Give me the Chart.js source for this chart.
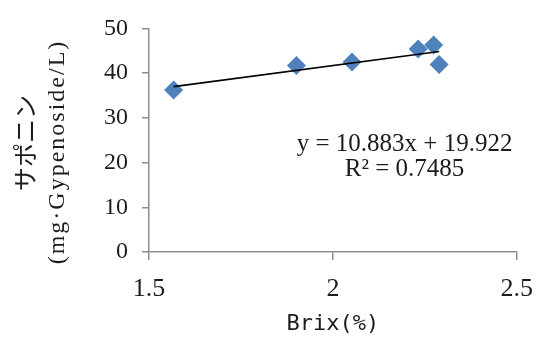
<!DOCTYPE html>
<html>
<head>
<meta charset="utf-8">
<script src="https://cdn.jsdelivr.net/npm/chart.js@4"></script>
<style>
    html, body { margin: 0; padding: 0; background: #ffffff; }
    canvas { display: block; }
</style>
</head>
<body>
<canvas id="BrixChart" width="549" height="338"></canvas>
<script>
// ---------------- Data ----------------
const brix = [1.567, 1.901, 2.052, 2.232, 2.274, 2.289];
const saponin = [36.2, 41.7, 42.5, 45.4, 46.3, 41.9];

// trend line end points as drawn (y = 10.883x + 19.922)
const trendX = [1.567, 2.289];
const trendY = [36.98, 44.83];

const xTicks = [1.5, 2, 2.5];
const xTickLabels = ["1.5", "2", "2.5"];
const yTicks = [0, 10, 20, 30, 40, 50];
const yTickLabels = ["0", "10", "20", "30", "40", "50"];

const equationText = ["y = 10.883x + 19.922", "R\u00b2 = 0.7485"];
const equationPos = { x: 2.195, y: 24.1 };

const xTitle = "Brix(%)";
const yTitle = ["サポニン", "(mg·Gypenoside/L)"];

const axisColor = "#8e8e8e";
const textColor = "#1c1c1c";
const markerColor = "#4f81bd";


// ---------------- Helpers ----------------
function toPoints(xs, ys) {
    return xs.map((x, i) => ({ x: x, y: ys[i] }));
}

function fixedTicks(values) {
    return function(scale) {
        scale.ticks = values.map(v => ({ value: v }));
    };
}


// ---------------- Text plugin (y title, equation) ----------------
const textPlugin = {
    id: "textPlugin",
    afterDraw(chart) {
        const ctx = chart.ctx;
        const xs = chart.scales.x;
        const ys = chart.scales.y;

        ctx.save();
        ctx.fillStyle = textColor;
        ctx.textAlign = "center";
        ctx.textBaseline = "middle";

        // y axis title, two lines, rotated
        ctx.save();
        ctx.translate(25, 143);
        ctx.rotate(-Math.PI / 2);
        ctx.font = "24px 'Noto Sans CJK JP'";
        ctx.fillText(yTitle[0], 0, 0);
        ctx.restore();

        ctx.save();
        ctx.translate(58, 152);
        ctx.rotate(-Math.PI / 2);
        ctx.font = "24px 'Liberation Serif'";
        ctx.letterSpacing = "2px";
        ctx.fillText(yTitle[1], 0, 0);
        ctx.restore();

        // trend line equation
        const ex = xs.getPixelForValue(equationPos.x);
        const ey = ys.getPixelForValue(equationPos.y);
        ctx.font = "25px 'Liberation Serif'";
        ctx.fillText(equationText[0], ex, ey);
        ctx.fillText(equationText[1], ex, ey + 25);

        ctx.restore();
    }
};


// ---------------- Chart ----------------
const ctx = document.getElementById("BrixChart").getContext("2d");

new Chart(ctx, {

    type: "scatter",

    data: {
        datasets: [
            {
                label: "trend",
                data: toPoints(trendX, trendY),
                showLine: true,
                borderColor: "#000000",
                borderWidth: 1.6,
                pointRadius: 0,
                order: 0
            },
            {
                label: "saponin",
                data: toPoints(brix, saponin),
                pointStyle: "rectRot",
                pointRadius: 9.5,
                pointHoverRadius: 9.5,
                backgroundColor: markerColor,
                borderColor: markerColor,
                borderWidth: 0,
                showLine: false,
                order: 1
            }
        ]
    },

    options: {

        responsive: false,
        animation: false,
        devicePixelRatio: 1,

        layout: {
            padding: { top: 24, right: 29, left: 0, bottom: 0 }
        },

        scales: {

            x: {
                type: "linear",
                position: "bottom",
                min: 1.5,
                max: 2.5,
                afterBuildTicks: fixedTicks(xTicks),
                afterFit: scale => { scale.height = 86; },
                border: { color: axisColor, width: 1.5 },
                grid: {
                    drawOnChartArea: false,
                    drawTicks: true,
                    tickLength: 8,
                    color: axisColor,
                    lineWidth: 1.5
                },
                ticks: {
                    padding: 16,
                    color: textColor,
                    font: { family: "'Liberation Serif'", size: 26, lineHeight: 1 },
                    callback: (v, i) => xTickLabels[i]
                },
                title: {
                    display: true,
                    text: xTitle,
                    color: textColor,
                    font: { family: "'DejaVu Sans Mono'", size: 22, lineHeight: 1.2 },
                    padding: { top: 0, bottom: 1 }
                }
            },

            y: {
                type: "linear",
                min: 0,
                max: 50,
                afterBuildTicks: fixedTicks(yTicks),
                afterFit: scale => { scale.width = 149; },
                border: { color: axisColor, width: 1.5 },
                grid: {
                    drawOnChartArea: false,
                    drawTicks: true,
                    tickLength: 7,
                    color: axisColor,
                    lineWidth: 1.5
                },
                ticks: {
                    padding: 14,
                    color: textColor,
                    font: { family: "'Liberation Serif'", size: 24 },
                    callback: (v, i) => yTickLabels[i]
                }
            }

        },

        plugins: {
            legend: { display: false },
            tooltip: { enabled: false }
        }

    },

    plugins: [textPlugin]

});
</script>
</body>
</html>
